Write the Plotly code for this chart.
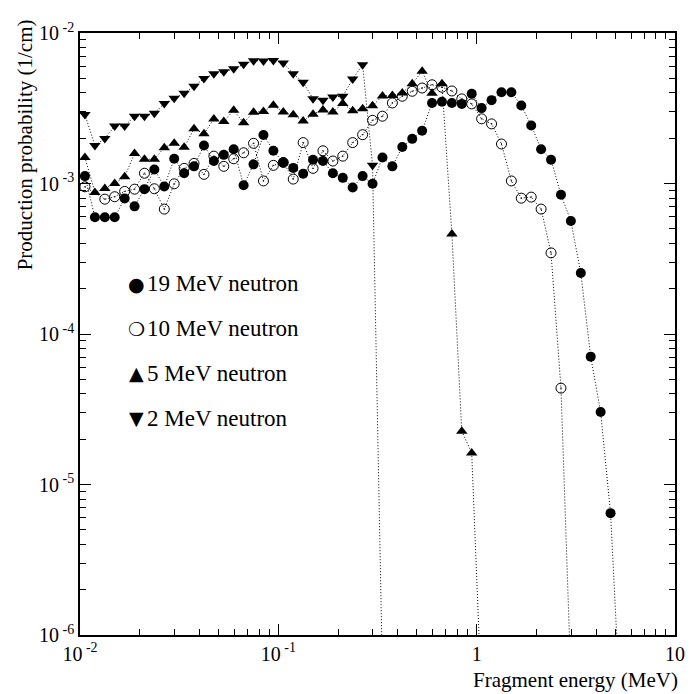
import plotly.graph_objects as go

# Fragment energy bin centres (MeV)
energy = [0.01059, 0.01189, 0.01334, 0.01496, 0.01679, 0.01884, 0.02113, 0.02371, 0.02661, 0.02985,
          0.03350, 0.03758, 0.04217, 0.04732, 0.05309, 0.05957, 0.06683, 0.07499, 0.08414, 0.09441,
          0.1059, 0.1189, 0.1334, 0.1496, 0.1679, 0.1884, 0.2113, 0.2371, 0.2661, 0.2985,
          0.3350, 0.3758, 0.4217, 0.4732, 0.5309, 0.5957, 0.6683, 0.7499, 0.8414, 0.9441,
          1.059, 1.189, 1.334, 1.496, 1.679, 1.884, 2.113, 2.371, 2.661, 2.985,
          3.350, 3.758, 4.217, 4.732, 5.309]

n19 = [1.12e-3, 5.96e-4, 5.96e-4, 5.96e-4, 7.96e-4, 7.05e-4, 9.17e-4, 1.24e-3, 9.55e-4, 1.46e-3,
       1.17e-3, 1.30e-3, 1.79e-3, 1.41e-3, 1.55e-3, 1.69e-3, 9.74e-4, 1.34e-3, 2.10e-3, 1.65e-3,
       1.38e-3, 1.27e-3, 1.16e-3, 1.44e-3, 1.41e-3, 1.17e-3, 1.09e-3, 9.41e-4, 1.12e-3, 9.95e-4,
       1.49e-3, 1.30e-3, 1.75e-3, 1.98e-3, 2.24e-3, 3.43e-3, 3.49e-3, 3.43e-3, 3.38e-3, 3.95e-3,
       3.17e-3, 3.58e-3, 4.04e-3, 4.04e-3, 3.30e-3, 2.43e-3, 1.69e-3, 1.44e-3, 8.42e-4, 5.63e-4,
       2.54e-4, 7.07e-5, 3.03e-5, 6.45e-6, 3.15e-7]

n10 = [9.51e-4, None, 7.87e-4, 8.17e-4, 8.86e-4, 9.17e-4, 1.17e-3, 9.23e-4, 6.76e-4, 9.95e-4,
       1.26e-3, 1.36e-3, 1.15e-3, 1.52e-3, 1.30e-3, 1.46e-3, 1.60e-3, 1.85e-3, 1.04e-3, 1.32e-3,
       1.38e-3, 1.07e-3, 1.87e-3, 1.26e-3, 1.65e-3, 1.41e-3, 1.52e-3, 1.87e-3, 2.11e-3, 2.63e-3,
       2.80e-3, 3.43e-3, 3.80e-3, 4.10e-3, 4.31e-3, 4.53e-3, 4.36e-3, 4.12e-3, 3.65e-3, 3.38e-3,
       2.69e-3, 2.49e-3, 1.83e-3, 1.04e-3, 7.99e-4, 8.12e-4, 6.76e-4, 3.46e-4, 4.37e-5, 5.2e-7]

n5 = [1.49e-3, 8.72e-4, 9.27e-4, 1.00e-3, 1.11e-3, 1.58e-3, 1.45e-3, 1.45e-3, 1.73e-3, 1.85e-3,
      1.74e-3, 2.31e-3, 2.14e-3, 2.68e-3, 2.58e-3, 3.07e-3, 2.53e-3, 2.98e-3, 3.01e-3, 3.31e-3,
      2.99e-3, 2.86e-3, 2.60e-3, 2.89e-3, 3.08e-3, 2.99e-3, 3.40e-3, 3.04e-3, 3.14e-3, 3.28e-3,
      3.82e-3, 3.84e-3, 4.00e-3, 4.60e-3, 5.56e-3, 3.98e-3, 4.60e-3, 4.62e-4, 2.26e-5, 1.62e-5,
      3.7e-7]

n2 = [2.87e-3, 1.79e-3, 1.99e-3, 2.41e-3, 2.41e-3, 2.80e-3, 2.80e-3, 2.93e-3, 3.40e-3, 3.69e-3,
      3.98e-3, 4.43e-3, 4.98e-3, 5.36e-3, 5.52e-3, 5.78e-3, 6.20e-3, 6.53e-3, 6.51e-3, 6.56e-3,
      6.31e-3, 5.36e-3, 4.70e-3, 3.65e-3, 3.58e-3, 3.76e-3, 3.80e-3, 4.95e-3, 6.15e-3, 1.32e-3,
      5.36e-7]

series_names = ["19 MeV neutron", "10 MeV neutron", "5 MeV neutron", "2 MeV neutron"]
legend_glyphs = ["\u25cf", "\u274d", "\u25b2", "\u25bc"]

x_tickvals = [0.01, 0.1, 1, 10]
x_ticktext = ["10<sup> -2</sup>", "10<sup> -1</sup>", "1", "10"]
y_tickvals = [1e-6, 1e-5, 1e-4, 1e-3, 1e-2]
y_ticktext = ["10<sup> -6</sup>", "10<sup> -5</sup>", "10<sup> -4</sup>", "10<sup> -3</sup>", "10<sup> -2</sup>"]

FONT = "Liberation Serif, Times New Roman, serif"

fig = go.Figure()

line_style = dict(color="black", width=1, dash="1px,2px")

def add(vals, symbol, size, lw=0):
    fig.add_trace(go.Scatter(
        x=energy[:len(vals)], y=vals, mode="lines+markers", connectgaps=True,
        line=line_style,
        marker=dict(symbol=symbol, size=size, color="black",
                    line=dict(color="black", width=lw)),
        showlegend=False))

add(n10, "circle-open-dot", 10, 1)
add(n19, "circle", 10)
add(n5, "triangle-up", 10)
add(n2, "triangle-down", 10)

# plot area in screenshot pixels (page body has an 8px margin)
OFF = 8
L, R, T, B = 80, 683, 30, 635
W, H = R - L, B - T
def px(xp): return (xp - L) / W
def py(yp): return (B - yp) / H

FIG_W, FIG_H = 697 - OFF, 694 - OFF

minor_x = [m * 10 ** e for e in (-2, -1, 0) for m in range(2, 10)]
minor_y = [m * 10 ** e for e in (-6, -5, -4, -3) for m in range(2, 10)]

axis_common = dict(type="log", showgrid=False, zeroline=False, showline=True,
                   linecolor="black", linewidth=1.5, mirror="allticks",
                   ticks="inside", ticklen=11, tickwidth=1, tickcolor="black",
                   tickmode="array",
                   tickfont=dict(family=FONT, size=20, color="black"))

fig.update_layout(
    width=FIG_W, height=FIG_H,
    margin=dict(l=L - OFF, r=FIG_W - (R - OFF), t=T - OFF, b=FIG_H - (B - OFF)),
    paper_bgcolor="white", plot_bgcolor="white",
    font=dict(family=FONT, size=21, color="black"),
    showlegend=False,
    xaxis=dict(range=[-2, 1], tickvals=x_tickvals, ticktext=x_ticktext,
               minor=dict(tickmode="array", tickvals=minor_x, ticks="inside", ticklen=6,
                          tickwidth=1, tickcolor="black", showgrid=False),
               **axis_common),
    yaxis=dict(range=[-6, -2], tickvals=y_tickvals, ticktext=y_ticktext,
               minor=dict(tickmode="array", tickvals=minor_y, ticks="inside", ticklen=6,
                          tickwidth=1, tickcolor="black", showgrid=False),
               **axis_common),
)

annotations = []
# axis titles
annotations.append(dict(text="Fragment energy (MeV)", xref="paper", yref="paper",
                        x=px(688), y=py(680), xanchor="right", yanchor="middle",
                        showarrow=False, font=dict(family=FONT, size=21)))
annotations.append(dict(text="Production probability (1/cm)", xref="paper", yref="paper",
                        x=px(24), y=py(14), xanchor="center", yanchor="top", textangle=-90,
                        showarrow=False, font=dict(family=FONT, size=21)))
# legend
rows = [282, 327, 372, 417]
for name, glyph, yy in zip(series_names, legend_glyphs, rows):
    annotations.append(dict(text=glyph, xref="paper", yref="paper", x=px(137), y=py(yy),
                            xanchor="center", yanchor="middle", showarrow=False,
                            font=dict(family="DejaVu Sans", size=19)))
    annotations.append(dict(text=name, xref="paper", yref="paper", x=px(146), y=py(yy),
                            xanchor="left", yanchor="middle", showarrow=False,
                            font=dict(family=FONT, size=23)))
fig.update_layout(annotations=annotations)

fig.write_html("out.html")
